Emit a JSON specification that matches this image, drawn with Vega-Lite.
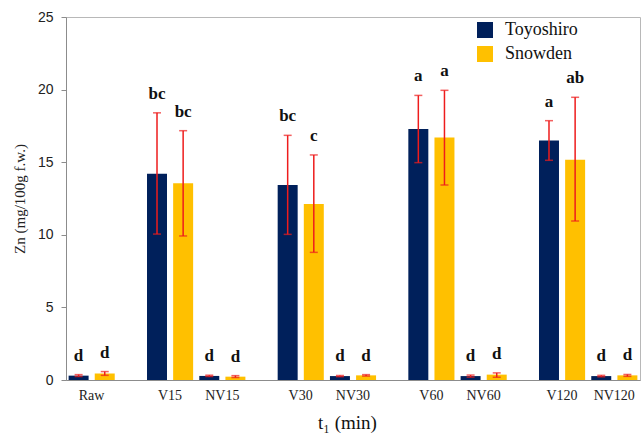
{
  "$schema": "https://vega.github.io/schema/vega-lite/v6.json",
  "width": 574,
  "height": 363,
  "autosize": {"type": "none"},
  "padding": {"left": 66, "top": 17, "right": 1, "bottom": 59},
  "background": "white",
  "config": {
    "view": {"stroke": "#b8b8b8", "strokeWidth": 1},
    "axis": {"grid": false, "domainColor": "#8c8c8c", "tickColor": "#8c8c8c"}
  },
  "data": {
    "values": [
      {"group": "Raw", "variety": "Toyoshiro", "mean": 0.30, "lo": 0.24, "hi": 0.37, "letter": "d"},
      {"group": "Raw", "variety": "Snowden", "mean": 0.45, "lo": 0.32, "hi": 0.58, "letter": "d"},
      {"group": "V15", "variety": "Toyoshiro", "mean": 14.2, "lo": 10.05, "hi": 18.4, "letter": "bc"},
      {"group": "V15", "variety": "Snowden", "mean": 13.55, "lo": 9.92, "hi": 17.17, "letter": "bc"},
      {"group": "NV15", "variety": "Toyoshiro", "mean": 0.28, "lo": 0.24, "hi": 0.33, "letter": "d"},
      {"group": "NV15", "variety": "Snowden", "mean": 0.23, "lo": 0.17, "hi": 0.30, "letter": "d"},
      {"group": "V30", "variety": "Toyoshiro", "mean": 13.43, "lo": 10.03, "hi": 16.85, "letter": "bc"},
      {"group": "V30", "variety": "Snowden", "mean": 12.12, "lo": 8.79, "hi": 15.5, "letter": "c"},
      {"group": "NV30", "variety": "Toyoshiro", "mean": 0.27, "lo": 0.23, "hi": 0.31, "letter": "d"},
      {"group": "NV30", "variety": "Snowden", "mean": 0.32, "lo": 0.27, "hi": 0.37, "letter": "d"},
      {"group": "V60", "variety": "Toyoshiro", "mean": 17.28, "lo": 14.97, "hi": 19.6, "letter": "a"},
      {"group": "V60", "variety": "Snowden", "mean": 16.7, "lo": 13.43, "hi": 19.95, "letter": "a"},
      {"group": "NV60", "variety": "Toyoshiro", "mean": 0.27, "lo": 0.2, "hi": 0.34, "letter": "d"},
      {"group": "NV60", "variety": "Snowden", "mean": 0.37, "lo": 0.19, "hi": 0.49, "letter": "d"},
      {"group": "V120", "variety": "Toyoshiro", "mean": 16.5, "lo": 15.13, "hi": 17.86, "letter": "a"},
      {"group": "V120", "variety": "Snowden", "mean": 15.17, "lo": 10.95, "hi": 19.47, "letter": "ab"},
      {"group": "NV120", "variety": "Toyoshiro", "mean": 0.27, "lo": 0.22, "hi": 0.32, "letter": "d"},
      {"group": "NV120", "variety": "Snowden", "mean": 0.32, "lo": 0.25, "hi": 0.38, "letter": "d"}
    ]
  },
  "transform": [
    {"calculate": "datum.group + '|' + datum.variety", "as": "slot"}
  ],
  "encoding": {
    "x": {
      "field": "slot",
      "type": "nominal",
      "sort": null,
      "scale": {
        "domain": ["Raw|Toyoshiro", "Raw|Snowden", "gap1",
                   "V15|Toyoshiro", "V15|Snowden", "NV15|Toyoshiro", "NV15|Snowden", "gap2",
                   "V30|Toyoshiro", "V30|Snowden", "NV30|Toyoshiro", "NV30|Snowden", "gap3",
                   "V60|Toyoshiro", "V60|Snowden", "NV60|Toyoshiro", "NV60|Snowden", "gap4",
                   "V120|Toyoshiro", "V120|Snowden", "NV120|Toyoshiro", "NV120|Snowden"],
        "paddingInner": 0.235,
        "paddingOuter": 0.1
      },
      "axis": {
        "title": "t₁ (min)",
        "titleFont": "Liberation Serif",
        "titleFontSize": 19,
        "titleFontWeight": "normal",
        "titleColor": "#111",
        "titlePadding": 11,
        "titleX": 281,
        "labelExpr": "indexof(datum.value, '|Toyoshiro') > 0 ? split(datum.value, '|')[0] : ''",
        "labelAngle": 0,
        "labelFont": "Liberation Serif",
        "labelFontSize": 14,
        "labelColor": "#222",
        "labelOffset": 13,
        "labelPadding": 8,
        "labelOverlap": false,
        "ticks": false
      }
    }
  },
  "layer": [
    {
      "mark": {"type": "bar"},
      "encoding": {
        "y": {
          "field": "mean",
          "type": "quantitative",
          "scale": {"domain": [0, 25], "nice": false},
          "axis": {
            "title": "Zn (mg/100g f.w.)",
            "titleFont": "Liberation Serif",
            "titleFontSize": 15,
            "titleFontWeight": "normal",
            "titleColor": "#222",
            "titlePadding": 10,
            "values": [0, 5, 10, 15, 20, 25],
            "labelFont": "Liberation Sans",
            "labelFontSize": 14,
            "labelColor": "#222",
            "labelPadding": 8,
            "tickSize": 5
          }
        },
        "color": {
          "field": "variety",
          "type": "nominal",
          "scale": {"domain": ["Toyoshiro", "Snowden"], "range": ["#00205b", "#ffc000"]},
          "legend": {
            "title": null,
            "orient": "none",
            "legendX": 410,
            "legendY": 4,
            "padding": 0,
            "symbolType": "square",
            "symbolSize": 256,
            "symbolStrokeWidth": 0,
            "labelFont": "Liberation Serif",
            "labelFontSize": 18,
            "labelColor": "#111",
            "labelOffset": 11,
            "rowPadding": 6
          }
        }
      }
    },
    {
      "mark": {"type": "rule", "color": "#ee1c1c", "strokeWidth": 1.5},
      "encoding": {
        "y": {"field": "lo", "type": "quantitative"},
        "y2": {"field": "hi"}
      }
    },
    {
      "mark": {"type": "tick", "color": "#ee1c1c", "size": 8, "thickness": 1.5},
      "encoding": {"y": {"field": "lo", "type": "quantitative"}}
    },
    {
      "mark": {"type": "tick", "color": "#ee1c1c", "size": 8, "thickness": 1.5},
      "encoding": {"y": {"field": "hi", "type": "quantitative"}}
    },
    {
      "mark": {"type": "text", "font": "Liberation Serif", "fontSize": 17, "fontWeight": "bold", "color": "#111", "baseline": "middle", "dy": -19},
      "encoding": {
        "y": {"field": "hi", "type": "quantitative"},
        "text": {"field": "letter"}
      }
    }
  ]
}
